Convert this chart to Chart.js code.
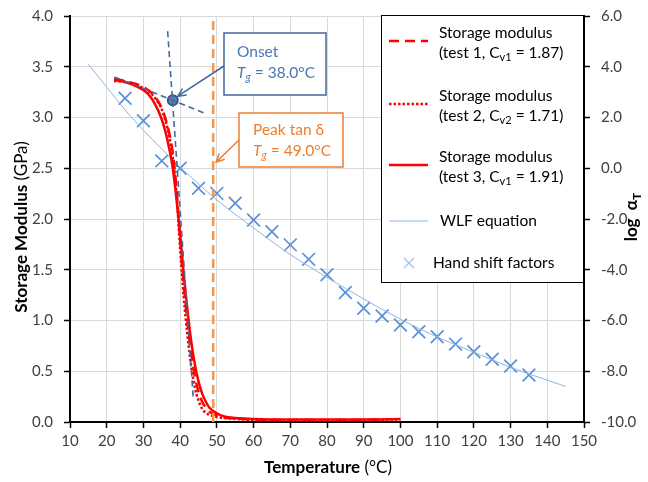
<!DOCTYPE html>
<html>
<head>
<meta charset="utf-8">
<title>Storage modulus and shift factors</title>
<script src="https://cdn.jsdelivr.net/npm/chart.js@4.4.1/dist/chart.umd.min.js"></script>
<style>
  html, body { margin: 0; padding: 0; background: #fff; }
  #wrap { width: 648px; height: 482px; }
</style>
</head>
<body>
<div id="wrap"><canvas id="dmaChart" width="648" height="482"></canvas></div>
<script>
/* =====================
   データ
===================== */
const FONT = 'Lato, "Open Sans", sans-serif';

// 軸目盛
const tempTicks = [10, 20, 30, 40, 50, 60, 70, 80, 90, 100, 110, 120, 130, 140, 150];
const modulusTicks = [0, 0.5, 1, 1.5, 2, 2.5, 3, 3.5, 4];
const logTicks = [-10, -8, -6, -4, -2, 0, 2, 4, 6];

// 貯蔵弾性率 (GPa) - test 1
const test1T = [22, 25, 28, 30, 32, 34, 35, 36, 37, 38, 39, 40, 41, 42, 43, 44, 45, 46, 47, 48, 50, 52, 55, 60, 70, 80, 90, 94];
const test1E = [3.38, 3.36, 3.33, 3.30, 3.25, 3.16, 3.09, 2.99, 2.85, 2.65, 2.30, 1.80, 1.35, 0.98, 0.68, 0.45, 0.30, 0.20, 0.14, 0.10, 0.065, 0.045, 0.035, 0.025, 0.02, 0.02, 0.02, 0.025];
// test 2
const test2T = [22, 25, 28, 30, 32, 34, 35, 36, 37, 38, 39, 40, 41, 42, 43, 44, 45, 46, 47, 48, 50, 52, 55, 60, 70, 80, 90, 100];
const test2E = [3.36, 3.35, 3.32, 3.29, 3.24, 3.15, 3.08, 2.97, 2.82, 2.60, 2.25, 1.70, 1.22, 0.85, 0.55, 0.34, 0.21, 0.13, 0.09, 0.07, 0.05, 0.04, 0.03, 0.02, 0.015, 0.015, 0.02, 0.025];
// test 3
const test3T = [22, 25, 28, 30, 32, 34, 35, 36, 37, 38, 39, 40, 41, 42, 43, 44, 45, 46, 47, 48, 50, 52, 55, 60, 70, 80, 90, 100];
const test3E = [3.37, 3.35, 3.31, 3.27, 3.20, 3.07, 2.98, 2.86, 2.70, 2.50, 2.20, 1.85, 1.45, 1.10, 0.80, 0.57, 0.40, 0.28, 0.20, 0.14, 0.085, 0.055, 0.04, 0.03, 0.025, 0.025, 0.025, 0.03];

// WLF 式 (log aT)
const wlfT = [15, 20, 25, 30, 40, 50, 60, 70, 80, 90, 100, 110, 120, 130, 140, 145];
const wlfLog = [4.1, 3.2, 2.3, 1.5, 0.05, -1.25, -2.35, -3.4, -4.3, -5.15, -5.95, -6.65, -7.25, -7.85, -8.35, -8.6];

// 手動シフトファクター
const shiftT = [25, 30, 35, 40, 45, 50, 55, 60, 65, 70, 75, 80, 85, 90, 95, 100, 105, 110, 115, 120, 125, 130, 135];
const shiftLog = [2.76, 1.87, 0.29, 0.0, -0.79, -0.99, -1.38, -2.04, -2.5, -3.02, -3.59, -4.2, -4.9, -5.52, -5.82, -6.18, -6.44, -6.64, -6.93, -7.23, -7.53, -7.79, -8.15];

// Tg (onset / peak tan δ)
const onsetT = 38.0, onsetE = 3.17;
const peakTanDeltaT = 49.0;
const steepTangentT = [36.6, 43.6], steepTangentE = [3.85, 0.22];
const flatTangentT = [22.1, 46.8], flatTangentE = [3.40, 3.04];

const legendLabels = [
    ['Storage modulus', '(test 1, C_{v1} = 1.87)'],
    ['Storage modulus', '(test 2, C_{v2} = 1.71)'],
    ['Storage modulus', '(test 3, C_{v1} = 1.91)'],
    ['WLF equation'],
    ['Hand shift factors']
];

const toXY = (xs, ys) => xs.map((x, i) => ({ x, y: ys[i] }));

/* =====================
   テキスト描画ヘルパー (下付き文字対応)
===================== */
function richParts(str) {
    const out = [];
    str.split(/_\{([^}]*)\}/).forEach((t, i) => { if (t) out.push({ t, sub: i % 2 === 1 }); });
    return out;
}

function fontFor(p, size, weight) {
    return (p.weight || weight) + ' ' + (p.sub ? Math.round(size * 0.68) : size) + 'px ' + FONT;
}

function richWidth(ctx, parts, size, weight) {
    let w = 0;
    parts.forEach(p => {
        ctx.font = fontFor(p, size, weight);
        w += ctx.measureText(p.t).width;
    });
    return w;
}

function drawRich(ctx, parts, x, y, size, weight) {
    let cx = x;
    parts.forEach(p => {
        ctx.font = fontFor(p, size, weight);
        ctx.fillText(p.t, cx, y + (p.sub ? size * 0.28 : 0));
        cx += ctx.measureText(p.t).width;
    });
}

function arrow(ctx, x1, y1, x2, y2, color) {
    const a = Math.atan2(y2 - y1, x2 - x1);
    const h = 9;
    ctx.save();
    ctx.strokeStyle = color;
    ctx.lineWidth = 1.5;
    ctx.beginPath();
    ctx.moveTo(x1, y1);
    ctx.lineTo(x2, y2);
    ctx.moveTo(x2 - h * Math.cos(a - 0.45), y2 - h * Math.sin(a - 0.45));
    ctx.lineTo(x2, y2);
    ctx.lineTo(x2 - h * Math.cos(a + 0.45), y2 - h * Math.sin(a + 0.45));
    ctx.stroke();
    ctx.restore();
}

/* =====================
   注記・凡例・軸タイトル
===================== */
const decorPlugin = {
    id: 'decor',
    afterDraw(chart) {
        const ctx = chart.ctx;
        const xs = chart.scales.x, ys = chart.scales.y;
        const area = chart.chartArea;
        ctx.save();
        ctx.textBaseline = 'middle';

        // 軸タイトル
        ctx.fillStyle = '#000';
        let parts = [{ t: 'Temperature', weight: 'bold' }, { t: ' (°C)', weight: 'normal' }];
        let w = richWidth(ctx, parts, 17, 'normal');
        drawRich(ctx, parts, (area.left + area.right) / 2 - w / 2 + 1, 468, 17, 'normal');

        ctx.save();
        ctx.translate(22, (area.top + area.bottom) / 2 + 8);
        ctx.rotate(-Math.PI / 2);
        parts = [{ t: 'Storage Modulus', weight: 'bold' }, { t: ' (GPa)', weight: 'normal' }];
        w = richWidth(ctx, parts, 17, 'normal');
        drawRich(ctx, parts, -w / 2, 0, 17, 'normal');
        ctx.restore();

        ctx.save();
        ctx.translate(632, (area.top + area.bottom) / 2 - 2);
        ctx.rotate(-Math.PI / 2);
        parts = richParts('log  α_{T}');
        w = richWidth(ctx, parts, 17, 'bold');
        drawRich(ctx, parts, -w / 2, 0, 17, 'bold');
        ctx.restore();

        // Onset 注記
        const onX = xs.getPixelForValue(onsetT), onY = ys.getPixelForValue(onsetE);
        ctx.fillStyle = '#fff';
        ctx.fillRect(224, 33, 102, 62);
        ctx.strokeStyle = '#41699a';
        ctx.lineWidth = 1.5;
        ctx.strokeRect(224, 33, 102, 62);
        ctx.fillStyle = '#4a78b3';
        drawRich(ctx, [{ t: 'Onset' }], 237, 52, 15.5, 'normal');
        drawRich(ctx, [{ t: 'T', weight: 'italic' }, { t: 'g', sub: true, weight: 'italic' }, { t: ' = 38.0°C' }], 237, 73, 15.5, 'normal');
        arrow(ctx, 224, 66, onX + 5, onY - 4, '#41699a');

        // Peak tan δ 注記
        const pkX = xs.getPixelForValue(peakTanDeltaT);
        ctx.fillStyle = '#fff';
        ctx.fillRect(239, 113, 104, 54);
        ctx.strokeStyle = '#ed7d31';
        ctx.strokeRect(239, 113, 104, 54);
        ctx.fillStyle = '#ed7d31';
        drawRich(ctx, [{ t: 'Peak tan δ' }], 253, 130, 15.5, 'normal');
        drawRich(ctx, [{ t: 'T', weight: 'italic' }, { t: 'g', sub: true, weight: 'italic' }, { t: ' = 49.0°C' }], 253, 151, 15.5, 'normal');
        arrow(ctx, 239, 140, pkX + 3, 162, '#ed7d31');

        // 凡例
        const lx = 381, ly = 15, lw = 202, lh = 267;
        ctx.fillStyle = '#fff';
        ctx.fillRect(lx, ly, lw, lh);
        ctx.strokeStyle = '#000';
        ctx.lineWidth = 1;
        ctx.strokeRect(lx + 0.5, ly + 0.5, lw, lh);

        const rows = [41, 104, 165, 221, 263];
        const ds = chart.data.datasets;
        const samples = [ds[4], ds[5], ds[6], ds[7]];
        samples.forEach((d, i) => {
            ctx.save();
            ctx.strokeStyle = d.borderColor;
            ctx.lineWidth = d.borderWidth;
            ctx.setLineDash(d.borderDash || []);
            ctx.beginPath();
            ctx.moveTo(389, rows[i]);
            ctx.lineTo(428, rows[i]);
            ctx.stroke();
            ctx.restore();
        });
        // X マーカー
        ctx.save();
        ctx.strokeStyle = '#9dc3e6';
        ctx.lineWidth = 1.3;
        ctx.beginPath();
        ctx.moveTo(404, rows[4] - 5); ctx.lineTo(414, rows[4] + 5);
        ctx.moveTo(414, rows[4] - 5); ctx.lineTo(404, rows[4] + 5);
        ctx.stroke();
        ctx.restore();

        ctx.fillStyle = '#000';
        legendLabels.forEach((lines, i) => {
            const tx = i === 4 ? 433 : (i === 3 ? 440 : 439);
            if (lines.length === 2) {
                drawRich(ctx, richParts(lines[0]), tx, rows[i] - 8, 15.5, 'normal');
                drawRich(ctx, richParts(lines[1]), tx, rows[i] + 12, 15.5, 'normal');
            } else {
                drawRich(ctx, richParts(lines[0]), tx, rows[i], 15.5, 'normal');
            }
        });
        ctx.restore();
    }
};

/* =====================
   グラフ
===================== */
const tickFont = { family: FONT, size: 15 };
const setTicks = vals => scale => { scale.ticks = vals.map(v => ({ value: v })); };
// 縦軸ラベルによる上下の余白を無効化
const fitVertical = width => s => { s.width = width; s.paddingTop = 0; s.paddingBottom = 0; };

new Chart(document.getElementById('dmaChart'), {
    type: 'line',
    data: {
        datasets: [
            {
                label: 'Peak tan δ',
                data: [{ x: peakTanDeltaT, y: 0 }, { x: peakTanDeltaT, y: 4 }],
                borderColor: '#f79646', borderWidth: 2.5, borderDash: [9, 5],
                pointRadius: 0, yAxisID: 'y'
            },
            {
                label: 'tangent 1',
                data: toXY(steepTangentT, steepTangentE),
                borderColor: '#44699b', borderWidth: 1.6, borderDash: [6, 4],
                pointRadius: 0, yAxisID: 'y'
            },
            {
                label: 'tangent 2',
                data: toXY(flatTangentT, flatTangentE),
                borderColor: '#44699b', borderWidth: 1.6, borderDash: [6, 4],
                pointRadius: 0, yAxisID: 'y'
            },
            {
                label: 'Onset',
                data: [{ x: onsetT, y: onsetE }],
                showLine: false, pointRadius: 5, pointBorderWidth: 2,
                pointBackgroundColor: '#5a80b0', pointBorderColor: '#36598a', yAxisID: 'y'
            },
            {
                label: 'test 1',
                data: toXY(test1T, test1E),
                borderColor: '#ff0000', borderWidth: 2.5, borderDash: [10, 6],
                pointRadius: 0, cubicInterpolationMode: 'monotone', yAxisID: 'y'
            },
            {
                label: 'test 2',
                data: toXY(test2T, test2E),
                borderColor: '#ff0000', borderWidth: 2.5, borderDash: [2.5, 2],
                pointRadius: 0, cubicInterpolationMode: 'monotone', yAxisID: 'y'
            },
            {
                label: 'test 3',
                data: toXY(test3T, test3E),
                borderColor: '#ff0000', borderWidth: 2.5,
                pointRadius: 0, cubicInterpolationMode: 'monotone', yAxisID: 'y'
            },
            {
                label: 'WLF equation',
                data: toXY(wlfT, wlfLog),
                borderColor: '#8db4e2', borderWidth: 1,
                pointRadius: 0, cubicInterpolationMode: 'monotone', yAxisID: 'y2'
            },
            {
                label: 'Hand shift factors',
                data: toXY(shiftT, shiftLog),
                showLine: false, pointStyle: 'crossRot', pointRadius: 9,
                pointBorderColor: '#5b8fd6', pointBorderWidth: 1.7, yAxisID: 'y2'
            }
        ]
    },
    plugins: [decorPlugin],
    options: {
        responsive: false,
        animation: false,
        devicePixelRatio: 1,
        layout: { padding: { top: 16, left: 0, right: 0, bottom: 0 } },
        plugins: { legend: { display: false }, tooltip: { enabled: false } },
        scales: {
            x: {
                type: 'linear', min: 10, max: 150,
                afterBuildTicks: setTicks(tempTicks),
                afterFit: s => { s.height = 60; },
                ticks: { font: tickFont, color: '#404040', padding: 4, maxRotation: 0, autoSkip: false },
                grid: { color: '#d9d9d9', tickColor: '#000', tickLength: 6, tickWidth: 1.5 },
                border: { color: '#000', width: 2 }
            },
            y: {
                position: 'left', min: 0, max: 4,
                afterBuildTicks: setTicks(modulusTicks),
                afterFit: fitVertical(70),
                ticks: { font: tickFont, color: '#404040', padding: 11, callback: v => v.toFixed(1) },
                grid: { color: '#d9d9d9', tickColor: '#000', tickLength: 6, tickWidth: 1.5 },
                border: { color: '#000', width: 2 }
            },
            y2: {
                position: 'right', min: -10, max: 6,
                afterBuildTicks: setTicks(logTicks),
                afterFit: fitVertical(64),
                ticks: { font: tickFont, color: '#404040', padding: 11, callback: v => v.toFixed(1) },
                grid: { drawOnChartArea: false, tickColor: '#000', tickLength: 6, tickWidth: 1.5 },
                border: { color: '#000', width: 2 }
            }
        }
    }
});
</script>
</body>
</html>
